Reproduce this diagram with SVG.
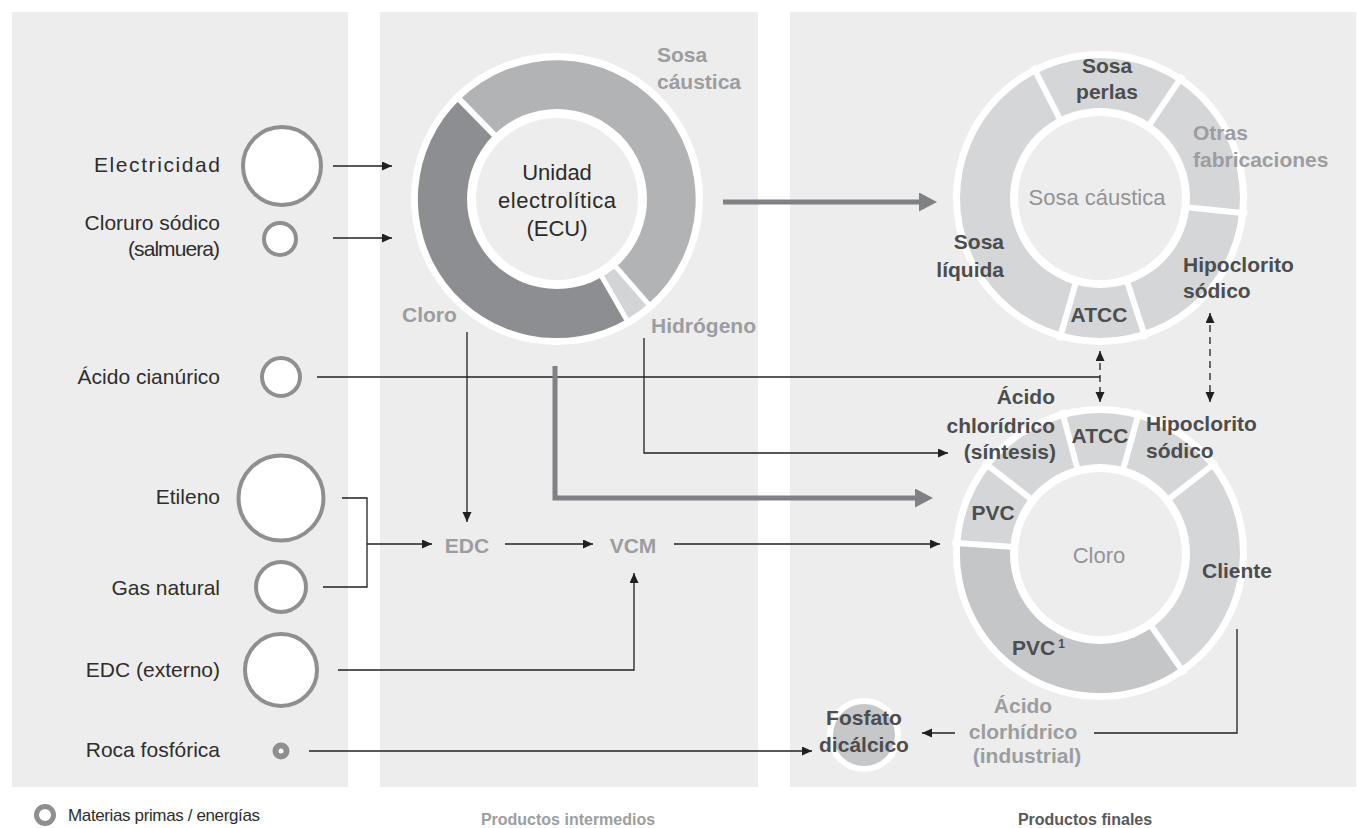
<svg xmlns="http://www.w3.org/2000/svg" width="1357" height="828" viewBox="0 0 1357 828">
<defs>
<style>
text{font-family:"Liberation Sans",Arial,sans-serif}
.panel{fill:#ededed}
.lab{font-size:21px;fill:#2e2e2e;text-anchor:end}
.b{font-size:21px;font-weight:bold;fill:#4c4d4f}
.g{font-size:21px;font-weight:bold;fill:#9c9da0}
.c{font-size:22px;fill:#939497;text-anchor:middle}
.mid{text-anchor:middle}
.src{fill:#fff;stroke:#8e8f91;stroke-width:4}
.ln{fill:none;stroke:#231f20;stroke-width:1.3}
.dash{stroke-dasharray:7 5}
.thick{fill:none;stroke:#808184;stroke-width:5}
.sep{stroke:#fff;stroke-width:6}
</style>
<marker id="a" markerUnits="userSpaceOnUse" markerWidth="11" markerHeight="10" refX="10" refY="4.5" orient="auto-start-reverse"><path d="M0,0 L10,4.5 L0,9 z" fill="#231f20"/></marker>
<marker id="t" markerUnits="userSpaceOnUse" markerWidth="19" markerHeight="20" refX="1" refY="9.5" orient="auto"><path d="M0,0 L18,9.5 L0,19 z" fill="#808184"/></marker>
</defs>

<rect width="1357" height="828" fill="#fff"/>
<rect class="panel" x="12" y="12" width="336" height="775"/>
<rect class="panel" x="380" y="12" width="378" height="775"/>
<rect class="panel" x="790" y="12" width="566" height="775"/>

<g id="connectors">
<path class="ln" d="M333 166 H392" marker-end="url(#a)"/>
<path class="ln" d="M333 238 H392" marker-end="url(#a)"/>
<path class="ln" d="M317 377 H1100"/>
<path class="ln" d="M342 498 H367 V587 H323"/>
<path class="ln" d="M367 544 H432" marker-end="url(#a)"/>
<path class="ln" d="M505 544 H593" marker-end="url(#a)"/>
<path class="ln" d="M674 544 H940" marker-end="url(#a)"/>
<path class="ln" d="M338 670 H634 V573" marker-end="url(#a)"/>
<path class="ln" d="M309 751 H812" marker-end="url(#a)"/>
<path class="ln" d="M467 332 V522" marker-end="url(#a)"/>
<path class="ln" d="M644 338 V453 H948" marker-end="url(#a)"/>
<path class="ln" d="M1237 629 V733 H1094"/>
<path class="ln" d="M955 733 H922" marker-end="url(#a)"/>
<path class="ln dash" d="M1100 351 V402" marker-start="url(#a)" marker-end="url(#a)"/>
<path class="ln dash" d="M1210 313 V402" marker-start="url(#a)" marker-end="url(#a)"/>
<path class="thick" d="M723 202 H920" marker-end="url(#t)"/>
<path class="thick" d="M555 366 V498 H916" marker-end="url(#t)"/>
</g>

<g id="electricidad"><circle class="src" cx="282" cy="166" r="39"/><text class="lab" x="220" y="172" font-size="22" textLength="126">Electricidad</text></g>
<g id="cloruro"><circle class="src" cx="280" cy="239" r="16"/><text class="lab" x="220" y="230">Cloruro sódico</text><text class="lab" x="220" y="256" textLength="92">(salmuera)</text></g>
<g id="acido-cianurico"><circle class="src" cx="281" cy="377" r="19"/><text class="lab" x="220" y="384">Ácido cianúrico</text></g>
<g id="etileno"><circle class="src" cx="281" cy="498" r="42.5"/><text class="lab" x="220" y="504">Etileno</text></g>
<g id="gas-natural"><circle class="src" cx="281" cy="587" r="25"/><text class="lab" x="220" y="595">Gas natural</text></g>
<g id="edc-externo"><circle class="src" cx="281" cy="670" r="36"/><text class="lab" x="220" y="677">EDC (externo)</text></g>
<g id="roca"><circle cx="281" cy="751" r="5.5" fill="#fff" stroke="#8e8f91" stroke-width="6"/><text class="lab" x="220" y="757">Roca fosfórica</text></g>

<g id="ecu">
<circle cx="557" cy="199" r="146" fill="#fff"/>
<path d="M557 199 L459.7 99.7 A139 139 0 1 1 648.2 303.9 Z" fill="#b2b3b5"/>
<path d="M557 199 L648.2 303.9 A139 139 0 0 1 626.5 319.4 Z" fill="#d3d4d6"/>
<path d="M557 199 L626.5 319.4 A139 139 0 0 1 459.7 99.7 Z" fill="#8d8e91"/>
<line class="sep" x1="557" y1="199" x2="454.8" y2="94.7"/>
<line class="sep" x1="557" y1="199" x2="652.8" y2="309.2" style="stroke-width:5"/>
<line class="sep" x1="557" y1="199" x2="630" y2="325.4" style="stroke-width:5"/>
<circle cx="557" cy="199" r="90" fill="#fff"/>
<circle cx="557" cy="199" r="81" fill="#ededed"/>
<text class="mid" x="557" y="180" font-size="22" fill="#2b2b2b">Unidad</text>
<text class="mid" x="557" y="208" font-size="22" fill="#2b2b2b" textLength="118">electrolítica</text>
<text class="mid" x="557" y="236" font-size="22" fill="#2b2b2b">(ECU)</text>
<text class="g" x="657" y="62">Sosa</text>
<text class="g" x="657" y="89">cáustica</text>
<text class="g" x="402" y="322">Cloro</text>
<text class="g" x="651" y="333">Hidrógeno</text>
</g>

<g id="edc"><text class="g mid" x="467" y="553" font-size="20">EDC</text></g>
<g id="vcm"><text class="g mid" x="633" y="553">VCM</text></g>

<g id="sosa-caustica">
<circle cx="1100" cy="198" r="147" fill="#fff"/>
<circle cx="1100" cy="198" r="140" fill="#d5d6d8"/>
<line class="sep" x1="1063.7" y1="126.7" x2="1032.8" y2="66.1"/>
<line class="sep" x1="1144.7" y1="131.7" x2="1182.8" y2="75.3"/>
<line class="sep" x1="1179.6" y1="206.4" x2="1247.2" y2="213.5"/>
<line class="sep" x1="1124.7" y1="274.1" x2="1145.7" y2="338.8"/>
<line class="sep" x1="1078.0" y1="274.9" x2="1059.2" y2="340.3"/>
<circle cx="1100" cy="198" r="90" fill="#fff"/>
<circle cx="1100" cy="198" r="82" fill="#ededed"/>
<text class="c" x="1097" y="205">Sosa cáustica</text>
<text class="b mid" x="1107" y="73">Sosa</text>
<text class="b mid" x="1107" y="99">perlas</text>
<text class="g" x="1193" y="140">Otras</text>
<text class="g" x="1193" y="167">fabricaciones</text>
<text class="b" x="1004" y="249" text-anchor="end">Sosa</text>
<text class="b" x="1004" y="277" text-anchor="end">líquida</text>
<text class="b mid" x="1099" y="322">ATCC</text>
<text class="b" x="1183" y="272">Hipoclorito</text>
<text class="b" x="1183" y="298">sódico</text>
</g>

<g id="cloro">
<circle cx="1100" cy="553" r="147" fill="#fff"/>
<circle cx="1100" cy="553" r="140" fill="#d5d6d8"/>
<path d="M1100 553 L1180.3 667.7 A140 140 0 0 1 960.3 543.2 Z" fill="#c5c6c8"/>
<line class="sep" x1="1020.2" y1="547.4" x2="952.4" y2="542.7"/>
<line class="sep" x1="1037.0" y1="503.7" x2="983.4" y2="461.9"/>
<line class="sep" x1="1079.3" y1="475.7" x2="1061.7" y2="410.0"/>
<line class="sep" x1="1121.4" y1="475.9" x2="1139.5" y2="410.4"/>
<line class="sep" x1="1163.0" y1="503.7" x2="1216.6" y2="461.9"/>
<line class="sep" x1="1145.9" y1="618.5" x2="1184.9" y2="674.2"/>
<circle cx="1100" cy="554" r="90" fill="#fff"/>
<circle cx="1100" cy="554" r="82" fill="#ededed"/>
<text class="c" x="1099" y="563">Cloro</text>
<text class="b" x="1055" y="404" text-anchor="end">Ácido</text>
<text class="b" x="1055" y="433" text-anchor="end">chlorídrico</text>
<text class="b" x="1056" y="459" text-anchor="end">(síntesis)</text>
<text class="b mid" x="1100" y="443">ATCC</text>
<text class="b" x="1146" y="431">Hipoclorito</text>
<text class="b" x="1146" y="458">sódico</text>
<text class="b mid" x="993" y="520">PVC</text>
<text class="b" x="1202" y="578">Cliente</text>
<text class="b" x="1012" y="655">PVC<tspan font-size="12" dx="3" dy="-7">1</tspan></text>
<text class="g mid" x="1023" y="713">Ácido</text>
<text class="g mid" x="1023" y="739">clorhídrico</text>
<text class="g mid" x="1027" y="763">(industrial)</text>
</g>

<g id="fosfato">
<circle cx="864" cy="735" r="37" fill="#fff"/>
<circle cx="864" cy="735" r="31" fill="#c6c7c9"/>
<text class="b mid" x="864" y="725" fill="#58595b">Fosfato</text>
<text class="b mid" x="864" y="752" fill="#58595b">dicálcico</text>
</g>

<g id="legend">
<circle cx="45" cy="815" r="8.5" fill="#fff" stroke="#8e8f91" stroke-width="5"/>
<text x="68" y="821" font-size="17" fill="#2e2e2e" textLength="192">Materias primas / energías</text>
<text x="568" y="825" font-size="16" font-weight="bold" fill="#9c9da0" text-anchor="middle">Productos intermedios</text>
<text x="1085" y="825" font-size="16" font-weight="bold" fill="#58595b" text-anchor="middle">Productos finales</text>
</g>
</svg>
